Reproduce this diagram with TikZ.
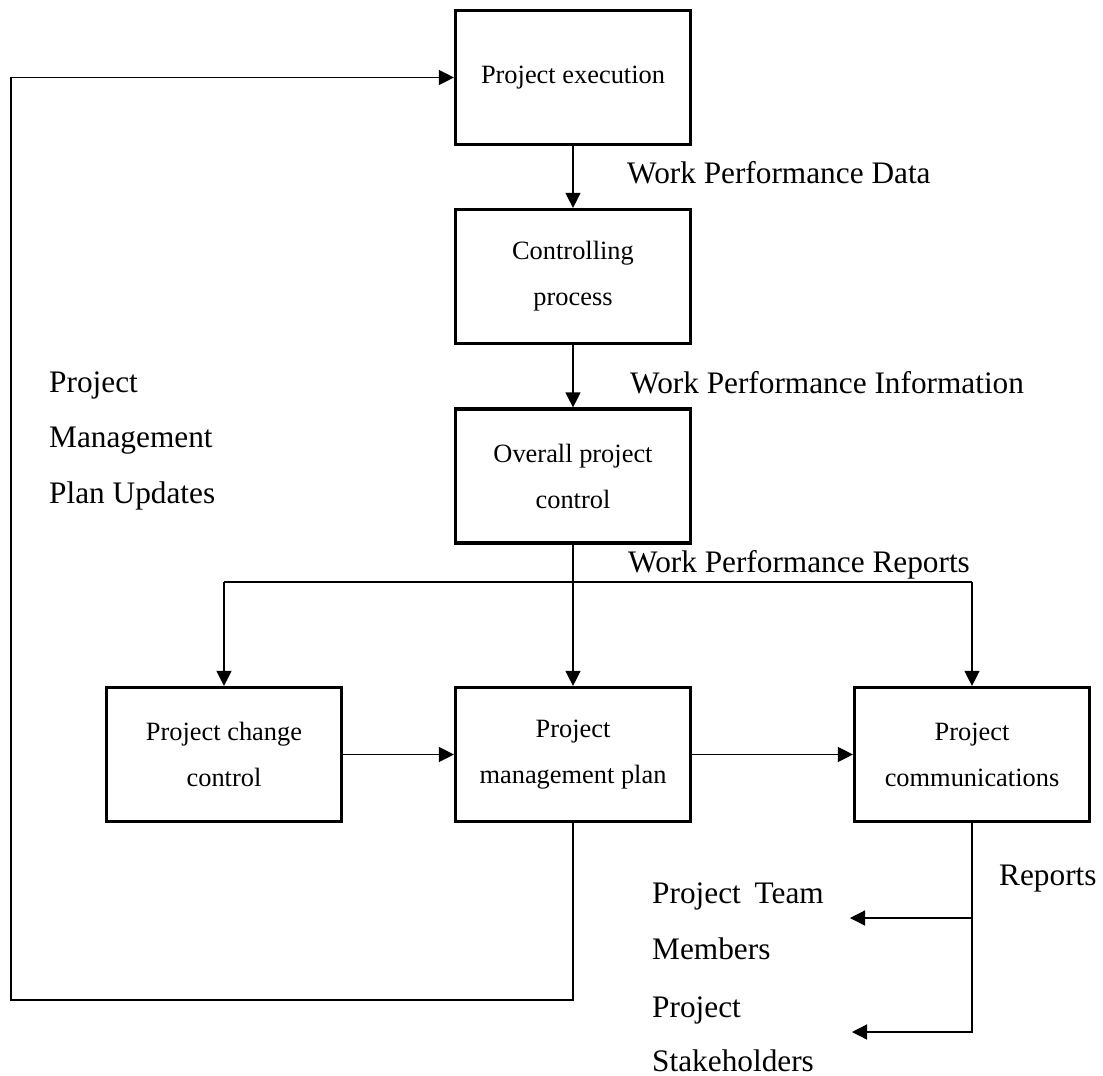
\documentclass[tikz,border=0pt]{standalone}
\usepackage{fontspec}
\setmainfont{Liberation Serif}
\usetikzlibrary{arrows.meta}
\begin{document}
\begin{tikzpicture}[x=1pt,y=-1pt,
  box/.style={draw, line width=3.2pt, minimum width=235pt, minimum height=134pt, inner sep=0pt, align=center, font=\fontsize{26.4}{46}\selectfont},
  conn/.style={line width=1.3pt},
  arr/.style={conn, -{Triangle[length=15pt,width=15pt]}},
  lbl/.style={anchor=base west, inner sep=0pt, font=\fontsize{31.3}{36}\selectfont}]
\fill[white] (0,0) rectangle (1103,1076);
\useasboundingbox (0,0) rectangle (1103,1076);
% boxes
\node[box] (exec) at (573,77.5) {Project execution};
\node[box] (ctrl) at (573,276.5) {Controlling\\process};
\node[box] (overall) at (573,476) {Overall project\\control};
\node[box] (change) at (224,754.5) {Project change\\control};
\node[box] (plan) at (573,754.5) {Project\\management plan};
\node[box] (comm) at (972,754.5) {Project\\communications};
% coordinates
\coordinate (sl) at (224,582);
\coordinate (sr) at (972,582);
\coordinate (fb1) at (573,1000);
\coordinate (fb2) at (11,1000);
\coordinate (r1) at (972,918);
\coordinate (t1) at (850,918);
\coordinate (t2) at (852,1032);
% connectors
\draw[arr] (exec) -- (ctrl);
\draw[arr] (ctrl) -- (overall);
\draw[arr] (overall.south) -- (plan.north);
\draw[conn] (sl) -- (sr);
\draw[arr] (sl) -- (change.north);
\draw[arr] (sr) -- (comm.north);
\draw[arr] (change) -- (plan);
\draw[arr] (plan) -- (comm);
\draw[arr] (plan.south) -- (fb1) -- (fb2) |- (exec.west);
\draw[arr] (comm.south) |- (t2);
\draw[arr] (r1) -- (t1);
% labels
\node[lbl] (wpd) at (627,183) {Work Performance Data};
\node[lbl] (wpi) at (630,393) {Work Performance Information};
\node[lbl] (wpr) at (628,572) {Work Performance Reports};
\node[lbl] (pm1) at (49,392) {Project};
\node[lbl] (pm2) at (49,447) {Management};
\node[lbl] (pm3) at (49,503) {Plan Updates};
\node[lbl] (rep) at (999,885) {Reports};
\node[lbl] (pt1) at (652,903) {Project\hspace{0.44em}Team};
\node[lbl] (pt2) at (652,959) {Members};
\node[lbl] (ps1) at (652,1017) {Project};
\node[lbl] (ps2) at (652,1071) {Stakeholders};
\end{tikzpicture}
\end{document}
